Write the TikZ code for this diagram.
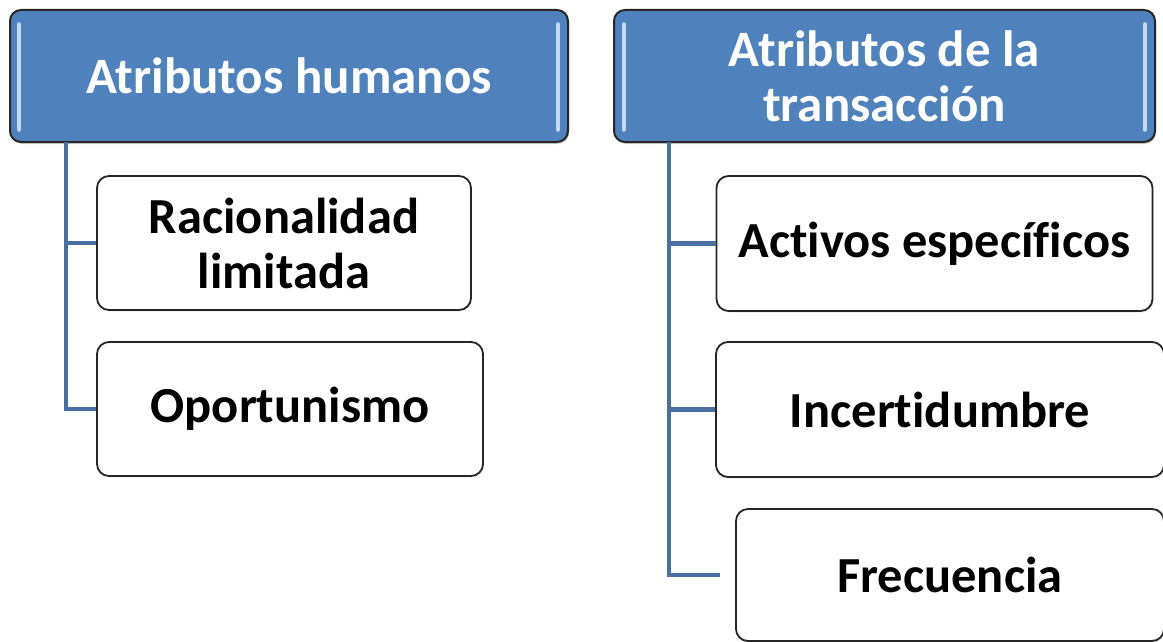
\documentclass[tikz,border=0pt]{standalone}
\usepackage{fontspec}
\setmainfont{Carlito}[Ligatures=NoCommon]
\usetikzlibrary{shadows}
\definecolor{hblue}{HTML}{4F81BD}
\definecolor{hline}{HTML}{4A6FA5}
\definecolor{hlite}{HTML}{C4DAF2}
\definecolor{bord}{HTML}{262626}
\tikzset{
  head/.style={rectangle, rounded corners=11pt, draw=bord, line width=2pt, fill=hblue,
    text=white, align=center, font=\fontsize{51}{55}\selectfont\bfseries,
    drop shadow={opacity=0.35, shadow xshift=1pt, shadow yshift=-2pt}},
  child/.style={rectangle, rounded corners=12pt, draw=bord, line width=1.8pt, fill=white,
    text=black, align=center, font=\fontsize{50.5}{55}\selectfont\bfseries,
    drop shadow={opacity=0.15, shadow xshift=1pt, shadow yshift=-1.5pt}},
  conn/.style={draw=hline, line width=4.8pt},
  lite/.style={draw=hlite, line width=3.5pt, line cap=round}
}
\begin{document}
\begin{tikzpicture}[x=1pt,y=-1pt]
\useasboundingbox (0,0) rectangle (1163,642);
% headers
\node[head, minimum width=558pt, minimum height=132pt] (h1) at (289,76) {Atributos humanos};
\node[head, minimum width=541pt, minimum height=132pt] (h2) at (884.5,76) {Atributos de la\\transacción};
% highlight strips
\coordinate (h1la) at (19,24); \coordinate (h1lb) at (19,130);
\coordinate (h1ra) at (558,24); \coordinate (h1rb) at (558,130);
\coordinate (h2la) at (624,24); \coordinate (h2lb) at (624,130);
\coordinate (h2ra) at (1145,24); \coordinate (h2rb) at (1145,130);
\draw[lite] (h1la) -- (h1lb);
\draw[lite] (h1ra) -- (h1rb);
\draw[lite] (h2la) -- (h2lb);
\draw[lite] (h2ra) -- (h2rb);
% children
\node[child, minimum width=374pt, minimum height=134pt] (rac) at (284,243) {Racionalidad\\limitada};
\node[child, minimum width=386pt, minimum height=134pt] (opo) at (290,409) {Oportunismo};
\node[child, minimum width=436pt, minimum height=135pt] (act) at (934.5,243.5) {Activos específicos};
\node[child, minimum width=448pt, minimum height=135pt] (inc) at (940,409.5) {Incertidumbre};
\node[child, minimum width=428pt, minimum height=132pt] (fre) at (950,575) {Frecuencia};
% connectors
\coordinate (l1) at (66,142);
\coordinate (r1) at (669,142);
\coordinate (fend) at (720,575);
\draw[conn] (l1) |- (rac.west);
\draw[conn] (l1) |- (opo.west);
\draw[conn] (r1) |- (act.west);
\draw[conn] (r1) |- (inc.west);
\draw[conn] (r1) |- (fend);
\end{tikzpicture}
\end{document}
